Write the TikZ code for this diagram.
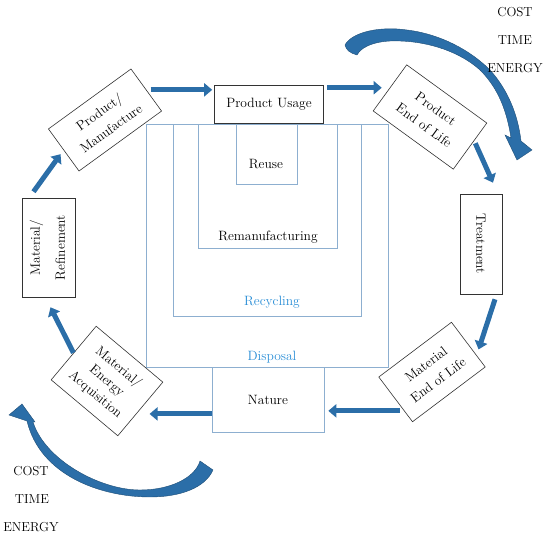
\documentclass[tikz,border=0pt]{standalone}
\usepackage{tikz}
\usetikzlibrary{arrows.meta, calc}
\definecolor{flowblue}{HTML}{2B6EA8}
\definecolor{zoneline}{HTML}{8DAFD0}
\definecolor{zonetext}{HTML}{2A8ED6}

\begin{document}
\begin{tikzpicture}[
  x=1pt, y=-1pt,
  box/.style={draw=black!80, line width=0.6pt, fill=white, align=center, font=\fontsize{13.5}{20}\selectfont, inner sep=2pt},
  zone/.style={draw=zoneline, line width=0.8pt},
  zonelabel/.style={font=\fontsize{13.5}{15}\selectfont},
  flow/.style={-{Triangle[length=8pt, width=13pt]}, line width=5pt, draw=flowblue},
  swoosh/.style={fill=flowblue, draw=flowblue!70!black, line width=0.4pt},
  note/.style={font=\fontsize{13}{15}\selectfont}
]
\useasboundingbox (0,0) rectangle (550,537);

  % Nested end-of-life zones
  \draw[zone] (146,124) rectangle (388,367);
  \draw[zone] (173,124) rectangle (361,316);
  \draw[zone] (198,124) rectangle (337,248);
  \draw[zone] (236,124) rectangle (297,184);
  \node[zonelabel, text=zonetext] (l_disp) at (272,357) {Disposal};
  \node[zonelabel, text=zonetext] (l_recy) at (272,302) {Recycling};
  \node[zonelabel] (l_reman) at (268,237) {Remanufacturing};
  \node[zonelabel] (l_reuse) at (266,164) {Reuse};

  % Life cycle stages
  \node[box, minimum width=109, minimum height=38] (pu) at (269,104) {Product Usage};
  \node[box, rotate=36, minimum width=102, minimum height=52] (pm) at (105,120) {Product/\\Manufacture};
  \node[box, rotate=-36, minimum width=99, minimum height=57] (peol) at (430,117) {Product\\End of Life};
  \node[box, minimum width=42, minimum height=100] (treat) at (481,244) {\rotatebox{-90}{Treatment}};
  \node[box, rotate=37, minimum width=91, minimum height=56] (meol) at (432,372) {Material\\End of Life};
  \node[box, draw=zoneline, minimum width=112, minimum height=65] (nature) at (268,399.5) {Nature};
  \node[box, rotate=-40, minimum width=87, minimum height=70, font=\fontsize{13.5}{18}\selectfont] (mea) at (107,381) {Material/\\Energy\\Acquisition};
  \node[box, minimum width=53, minimum height=99] (mr) at (48.5,247.5)
    {\rotatebox{90}{\begin{tabular}{@{}c@{}}Material/\\[5pt]Refinement\end{tabular}}};

  % Cycle arrows
  \draw[flow, shorten >=2pt] ($(pm.east)+(4,0)$) -- (pm.east -| pu.west);
  \draw[flow] ($(pu.east |- peol.west)+(3,0)$) -- ($(peol.west)+(-8,0)$);
  \draw[flow] ($(peol.east)+(5,-3)$) -- ($(treat.north)+(12,-11)$);
  \draw[flow] ($(treat.south)+(14,5)$) -- ($(meol.east)+(10,5)$);
  \coordinate (meol_out) at ($(meol.west)!0.5!(meol.south west)$);
  \draw[flow, shorten <=4pt, shorten >=4pt] (meol_out) -- (meol_out -| nature.east);
  \coordinate (nat_out) at ($(nature.south west)!0.28!(nature.north west)$);
  \draw[flow, shorten >=9pt] (nat_out) -- (nat_out -| mea.east);
  \draw[flow] (mea.west) -- ($(mr.south)+(2,10)$);
  \draw[flow, shorten >=5pt] ($(mr.north)+(-15,-6)$) -- (pm.west);

  % Big curved arrows
  \fill[swoosh] (345,45) .. controls (352,32) and (380,26) .. (407,30)
    .. controls (440,34) and (470,50) .. (490,70)
    .. controls (508,90) and (518,115) .. (521,141)
    -- (532,150) -- (517,160) -- (505,135) -- (511,138)
    .. controls (506,105) and (495,85) .. (480,70)
    .. controls (460,52) and (430,42) .. (400,41)
    .. controls (380,40) and (362,45) .. (357,55)
    .. controls (350,53) and (346,50) .. (345,45) -- cycle;
  \fill[swoosh] (213,470) .. controls (205,488) and (180,497) .. (150,497)
    .. controls (100,497) and (40,475) .. (27,421)
    -- (9,415) -- (22,404) -- (35,422) -- (33,422)
    .. controls (45,460) and (100,490) .. (140,490)
    .. controls (170,490) and (195,478) .. (200,461) -- cycle;

  % Cost notes
  \node[note] (c_top) at (515,12) {COST};
  \node[note] (t_top) at (515,40) {TIME};
  \node[note] (e_top) at (515,68) {ENERGY};
  \node[note] (c_bot) at (31,471) {COST};
  \node[note] (t_bot) at (32,499) {TIME};
  \node[note] (e_bot) at (31,527) {ENERGY};

\end{tikzpicture}
\end{document}
